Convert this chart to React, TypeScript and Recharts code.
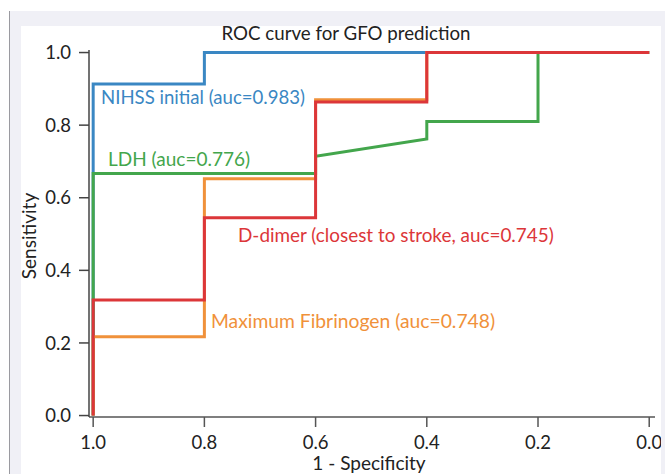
import React from 'react';
import { LineChart, Line, XAxis, YAxis, Customized } from 'recharts';

// 1 - Specificity axis values (drawn reversed, 1.0 on the left) and sensitivity values
const nihssSpec = [1, 1, 0.8, 0.8, 0];
const nihssSens = [0, 0.913, 0.913, 1, 1];

const ldhSpec = [1, 1, 0.6, 0.6, 0.4, 0.4, 0.2, 0.2, 0];
const ldhSens = [0, 0.667, 0.667, 0.714, 0.762, 0.81, 0.81, 1, 1];

const fibSpec = [1, 1, 0.8, 0.8, 0.6, 0.6, 0.4, 0.4, 0];
const fibSens = [0, 0.217, 0.217, 0.652, 0.652, 0.87, 0.87, 1, 1];

const ddSpec = [1, 1, 0.8, 0.8, 0.6, 0.6, 0.4, 0.4, 0];
const ddSens = [0, 0.318, 0.318, 0.545, 0.545, 0.864, 0.864, 1, 1];

const xTicks = [1, 0.8, 0.6, 0.4, 0.2, 0];
const yTicks = [0, 0.2, 0.4, 0.6, 0.8, 1];

const title = 'ROC curve for GFO prediction';
const xLabel = '1 - Specificity';
const yLabel = 'Sensitivity';
const nihssName = 'NIHSS initial (auc=0.983)';
const ldhName = 'LDH (auc=0.776)';
const ddName = 'D-dimer (closest to stroke, auc=0.745)';
const fibName = 'Maximum Fibrinogen (auc=0.748)';

const zip = (xs: number[], ys: number[]) => xs.map((x, i) => ({ spec: x, sens: ys[i] }));

const nihss = zip(nihssSpec, nihssSens);
const ldh = zip(ldhSpec, ldhSens);
const fib = zip(fibSpec, fibSens);
const dd = zip(ddSpec, ddSens);

const BLUE = '#3a87c3';
const GREEN = '#43a64c';
const ORANGE = '#f0913a';
const RED = '#dc3639';

const FONT = 'Lato, "Open Sans", sans-serif';

const Texts = () => (
  <g style={{ fontFamily: FONT }}>
    <text x={346} y={40} textAnchor="middle" fontSize={18.7} fill="#222">{title}</text>
    <text x={369} y={470} textAnchor="middle" fontSize={19} fill="#222">{xLabel}</text>
    <text x={36} y={236} textAnchor="middle" fontSize={19} fill="#222" transform="rotate(-90 36 236)">{yLabel}</text>
    <text x={101} y={104} fontSize={18.6} fill={BLUE}>{nihssName}</text>
    <text x={108} y={166} fontSize={19} fill={GREEN}>{ldhName}</text>
    <text x={238} y={242} fontSize={18.9} fill={RED}>{ddName}</text>
    <text x={211} y={328} fontSize={19.3} fill={ORANGE}>{fibName}</text>
  </g>
);

export default function App() {
  return (
    <div style={{ position: 'absolute', left: 0, top: 0, width: 665, height: 474, background: '#fff', overflow: 'hidden' }}>
      <div style={{ position: 'absolute', left: 9, top: 11, width: 656, height: 463, background: '#f0f0f6', borderLeft: '1px solid #9a9aa0' }} />
      <div style={{ position: 'absolute', left: 21, top: 26, width: 640, height: 448, background: '#fff' }} />
      <div style={{ position: 'absolute', left: 0, top: 0 }}>
        <LineChart width={665} height={474} margin={{ top: 50, right: 10, left: 0, bottom: 0 }}>
          <XAxis
            type="number"
            dataKey="spec"
            domain={[-0.0104, 1.0075]}
            reversed
            allowDataOverflow
            ticks={xTicks}
            interval={0}
            tickFormatter={(v: number) => v.toFixed(1)}
            tickSize={10}
            tickMargin={9}
            height={57}
            stroke="#555"
            strokeWidth={1.5}
            tick={{ fill: '#222', fontSize: 18.5, fontFamily: FONT }}
          />
          <YAxis
            type="number"
            dataKey="sens"
            domain={[-0.004, 1.007]}
            allowDataOverflow
            ticks={yTicks}
            interval={0}
            tickFormatter={(v: number) => v.toFixed(1)}
            tickSize={10}
            tickMargin={8}
            width={89}
            stroke="#444"
            strokeWidth={1.5}
            tick={{ fill: '#222', fontSize: 18.5, fontFamily: FONT }}
          />
          <Line data={nihss} dataKey="sens" type="linear" stroke={BLUE} strokeWidth={3} dot={false} isAnimationActive={false} />
          <Line data={ldh} dataKey="sens" type="linear" stroke={GREEN} strokeWidth={3} dot={false} isAnimationActive={false} />
          <Line data={fib} dataKey="sens" type="linear" stroke={ORANGE} strokeWidth={3} dot={false} isAnimationActive={false} />
          <Line data={dd} dataKey="sens" type="linear" stroke={RED} strokeWidth={3} dot={false} isAnimationActive={false} />
          <Customized component={<Texts />} />
        </LineChart>
      </div>
      <div style={{ position: 'absolute', left: 661, top: 11, width: 4, height: 463, background: '#f0f0f6' }} />
    </div>
  );
}
